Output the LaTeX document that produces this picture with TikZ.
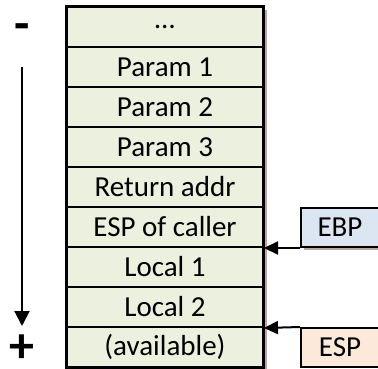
\documentclass[tikz,border=0pt]{standalone}
\usepackage{fontspec}
\setmainfont{Carlito}
\usetikzlibrary{arrows.meta}
\definecolor{slotfill}{HTML}{EBF1DE}
\definecolor{ebpfill}{HTML}{DCE6F2}
\definecolor{espfill}{HTML}{FDE9D9}
\definecolor{shadowc}{HTML}{BFA3A3}
\tikzset{
  slot/.style={draw=black, line width=2pt, fill=slotfill, minimum width=196pt,
    minimum height=40pt, inner sep=0pt, font=\fontsize{29}{32}\selectfont},
  regbox/.style={draw=black, line width=2pt, minimum width=86pt, minimum height=39pt,
    inner sep=0pt, anchor=north west, font=\fontsize{29}{32}\selectfont},
  ptr/.style={line width=2pt, -{Triangle[length=14pt, width=13pt]}},
  dirsign/.style={font=\fontsize{50}{50}\bfseries\selectfont, inner sep=0pt,
    text height=20pt, text depth=0pt}
}
\begin{document}
\begin{tikzpicture}[x=1pt, y=-1pt]
  \useasboundingbox (0,0) rectangle (378,368);
  \begin{scope}
    \clip (0,0) rectangle (378,368);
    % drop shadows behind the stack and the register boxes
    \fill[shadowc] (70,10) rectangle (266.5,371);
    \fill[shadowc] (304,212) rectangle (390,250);
    % stack slots, top to bottom
    \foreach \t [count=\i from 0] in {\dots, Param 1, Param 2, Param 3, Return addr,
        ESP of caller, Local 1, Local 2, (available)}
      \node[slot] (r\i) at (165, 27+40*\i) {\t};
    \draw[line width=2.5pt] (r0.north west) rectangle (r8.south east);
    % register boxes
    \node[regbox, fill=ebpfill] (ebp) at (300,207) {\hspace*{-8pt}EBP};
    \node[regbox, fill=espfill] (esp) at (300,327) {\hspace*{-8pt}ESP};
    \draw[ptr] (ebp.south west) -- (r5.south east);
    \draw[ptr] (esp.north west) -- (r7.south east);
    % growth direction
    \node[dirsign] (minus) at (22,30) {-};
    \node[dirsign] (plus) at (22,352) {+};
    \coordinate (top) at (22,67);
    \coordinate (bot) at (22,326);
    \draw[line width=2pt, -{Triangle[length=15pt, width=15pt]}] (top) -- (bot);
  \end{scope}
\end{tikzpicture}
\end{document}
